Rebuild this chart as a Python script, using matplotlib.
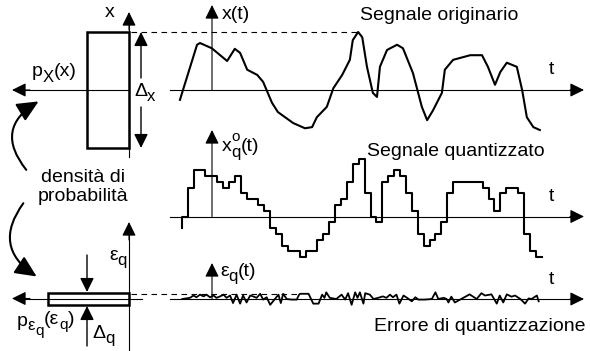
import numpy as np
import matplotlib.pyplot as plt
from matplotlib.patches import Rectangle, FancyArrowPatch

plt.rcParams['font.family'] = ['Liberation Sans', 'DejaVu Sans']

# original signal x(t): time in sampling periods, amplitude in quantization steps
sig_t = [-0.3, 2.6, 3.1, 5.1, 7.7, 9.0, 9.9, 11.1, 12.8, 13.8, 15.3, 16.3, 18.9,
         20.9, 22.1, 22.9, 24.6, 25.7, 27.2, 28.5, 29.0, 29.9, 30.6, 31.4, 32.4,
         33.1, 33.6, 34.8, 36.5, 37.5, 39.2, 40.7, 41.6, 42.6, 44.1, 44.6, 46.0,
         48.9, 50.9, 51.9, 53.1, 54.0, 55.1, 56.8, 57.7, 58.5, 59.6, 60.7]
sig_a = [-1.7, 7.8, 8.1, 7.2, 5.0, 7.1, 6.4, 3.5, 2.6, 1.4, -2.2, -3.8, -5.7,
         -6.6, -6.4, -4.7, -2.9, 0.3, 2.6, 5.2, 8.6, 10.0, 9.1, 4.0, -0.5,
         -1.2, 4.0, 6.9, 7.8, 7.2, 2.9, -2.9, -5.2, -3.5, -0.5, 3.5, 5.2,
         6.0, 6.0, 4.0, 0.9, 3.1, 4.7, 4.0, 0.0, -4.7, -6.4, -6.9]

# quantized signal: one level per sampling period
q_levels = [0, 5, 8, 8, 7, 7, 6, 5, 6, 7, 4, 3, 3, 2, 1, -2, -3, -5, -6, -6,
            -7, -6, -6, -4, -3, -1, 2, 3, 6, 9, 10, 4, 0, -1, 6, 7, 8, 7, 4, 1,
            -3, -5, -4, -3, -1, 4, 6, 6, 6, 6, 6, 5, 3, 1, 4, 5, 5, 4, -3, -6, -7]
q_start = -2

# quantization error
err_t = [0.1, 1.4, 2.0, 2.5, 3.1, 3.7, 4.2, 4.8, 5.4, 5.9, 6.5, 7.1, 7.6, 8.2,
         8.7, 9.3, 9.9, 10.4, 11.0, 11.6, 12.1, 12.7, 13.3, 13.8, 14.4, 15.0,
         15.8, 16.4, 16.8, 17.2, 17.8, 18.6, 19.5, 19.9, 20.1, 21.5, 22.3, 23.2,
         23.8, 24.2, 24.5, 25.1, 26.2, 27.1, 27.7, 28.2, 28.8, 29.4, 29.8, 30.2,
         30.8, 31.1, 31.9, 32.5, 33.3, 34.1, 34.7, 35.3, 35.8, 36.4, 36.9, 37.6,
         38.2, 39.0, 39.6, 40.1, 41.2, 42.4, 43.0, 43.5, 44.4, 44.9, 45.2, 45.7,
         46.3, 48.8, 50.0, 50.8, 51.4, 52.5, 53.4, 53.9, 54.5, 55.1, 55.9, 56.5,
         57.4, 58.2, 58.8, 59.3, 60.2, 60.5]
err_a = [0.0, 0.2, 0.6, 0.3, 0.75, 0.45, 0.75, 0.3, 0.6, 0.2, 0.45, 0.75, 0.2, 0.6,
         -0.7, 0.75, -0.8, 0.6, -0.6, 0.6, 0.45, 0.2, 0.9, -0.1, 0.3, -1.0,
         0.0, 0.75, -0.7, 0.9, 0.0, -0.1, -0.1, 0.75, 0.9, 0.9, -0.8, -0.8,
         0.75, 0.2, 1.15, 0.2, 0.0, 0.75, -0.1, 1.0, -1.0, 1.15, 0.2, 1.15,
         -0.8, 1.0, 0.75, 0.0, 0.2, 0.45, 0.2, 0.75, 0.3, 0.75, -0.8, 0.6,
         0.2, -0.4, 0.3, -0.1, -0.1, 0.0, 1.15, 0.0, 0.2, 0.0, -0.6, 0.4,
         -0.6, 0.8, 0.0, 1.0, 0.6, 0.8, -0.8, 0.6, -0.6, 0.8, 0.4, 0.6,
         0.0, -0.8, 0.1, 0.0, 0.6, -0.4]

# layout (pixels)
T0, DT, Q = 181.7, 5.9, 5.8
Y_TOP, Y_MID, Y_BOT = 90, 216.5, 299

fig = plt.figure(figsize=(5.9, 3.51), dpi=100)
ax = fig.add_axes([0, 0, 1, 1])
ax.set_xlim(0, 590)
ax.set_ylim(351, 0)
ax.axis('off')
renderer = fig.canvas.get_renderer()

FS = 14


def arrow(x0, y0, x1, y1, lw=0.8, hl=0.85, hw=0.42):
    ax.annotate('', xy=(x1, y1), xytext=(x0, y0),
                arrowprops=dict(arrowstyle='-|>,head_length=%g,head_width=%g' % (hl, hw),
                                color='k', lw=lw, shrinkA=0, shrinkB=0, mutation_scale=10))


def chain(x, y, pieces):
    # pieces: (text, fontsize, shift down in px, advance?)
    for s, size, dy, adv in pieces:
        t = ax.text(x, y + dy, s, fontsize=size, ha='left', va='baseline')
        if adv:
            x += t.get_window_extent(renderer).width


def px(t):
    return T0 + np.asarray(t, dtype=float) * DT


# ---- signal axes
for yb, ytip in [(Y_TOP, 5), (Y_MID, 130), (Y_BOT, 263)]:
    ax.plot([170, 575], [yb, yb], color='k', lw=0.8)
    arrow(570, yb, 584, yb)
    arrow(212, yb, 212, ytip)
    ax.text(551, yb - 20, 't', fontsize=FS, ha='center', va='center')

# original signal
ax.plot(px(sig_t), Y_TOP - np.array(sig_a) * Q, color='k', lw=1.5,
        solid_joinstyle='round')

# quantized signal
n = len(q_levels)
qx = np.concatenate([[T0], px(np.arange(n + 1))])
qy = np.concatenate([[q_start], q_levels, [q_levels[-1]]])
ax.step(qx, Y_MID - qy * Q, where='post', color='k', lw=1.5)

# error signal
ax.plot(px(err_t), Y_BOT - np.array(err_a) * Q, color='k', lw=1.3)

# dashed guides
ax.plot([131, 357], [32, 32], color='k', lw=0.8, ls=(0, (5, 4)))
ax.plot([131, 300], [293.5, 293.5], color='k', lw=0.8, ls=(0, (5, 4)))

# ---- left top: density of x
ax.add_patch(Rectangle((87, 32), 42, 116, fill=False, lw=1.8, ec='k'))
ax.plot([129, 129], [157, 20], color='k', lw=0.8)
arrow(129, 30, 129, 12)
ax.plot([25, 129], [90, 90], color='k', lw=0.8)
arrow(30, 90, 12, 90)
arrow(141, 78, 141, 32, lw=1.0)
arrow(141, 107, 141, 148, lw=1.0)
ax.text(110, 17, 'x', fontsize=FS, ha='center', va='baseline')
chain(32, 76, [('p', FS, 0, True), ('X', 12, 6, True), ('(x)', FS, 0, True)])
chain(134, 96, [('Δ', FS, 0, True), ('x', 12, 5, True)])

# ---- labels of the signals
ax.text(222, 19, 'x(t)', fontsize=FS, ha='left', va='baseline')
ax.text(360, 20, 'Segnale originario', fontsize=FS, ha='left', va='baseline')
chain(222, 151, [('x', FS, 0, True), ('o', 11, -10, False), ('q', 12, 6, True),
                 ('(t)', FS, 0, True)])
ax.text(367, 156, 'Segnale quantizzato', fontsize=FS, ha='left', va='baseline')
chain(220, 276, [('ε', FS, 0, True), ('q', 12, 5, True), ('(t)', FS, 0, True)])
ax.text(585, 331, 'Errore di quantizzazione', fontsize=FS, ha='right', va='baseline')

# ---- density label with curved arrows
ax.text(83, 182, 'densità di', fontsize=FS, ha='center', va='baseline')
ax.text(83, 201, 'probabilità', fontsize=FS, ha='center', va='baseline')
ax.add_patch(FancyArrowPatch((28, 172), (41, 100), connectionstyle='arc3,rad=-0.6',
                             arrowstyle='-|>,head_length=1.3,head_width=0.6',
                             mutation_scale=10, lw=1.5, color='k'))
ax.add_patch(FancyArrowPatch((25, 201), (39, 278), connectionstyle='arc3,rad=0.55',
                             arrowstyle='-|>,head_length=1.3,head_width=0.6',
                             mutation_scale=10, lw=1.5, color='k'))

# ---- left bottom: density of the error
ax.add_patch(Rectangle((48, 293), 81, 12, fill=False, lw=1.8, ec='k'))
ax.plot([129, 129], [351, 235], color='k', lw=0.8)
arrow(129, 240, 129, 222)
ax.plot([25, 142], [298.5, 298.5], color='k', lw=0.8)
arrow(30, 298.5, 12, 298.5)
arrow(87, 255, 87, 292, lw=1.0)
arrow(87, 346, 87, 306, lw=1.0)
chain(109, 260, [('ε', FS, 0, True), ('q', 12, 5, True)])
chain(92, 338, [('Δ', FS, 0, True), ('q', 12, 5, True)])
chain(17, 326, [('p', FS, 0, True), ('ε', 12, 4, True), ('q', 11, 9, True),
                ('(ε', FS, -2, True), ('q', 11, 3, True), (')', FS, -2, True)])

fig.savefig('out.png', dpi=100)
